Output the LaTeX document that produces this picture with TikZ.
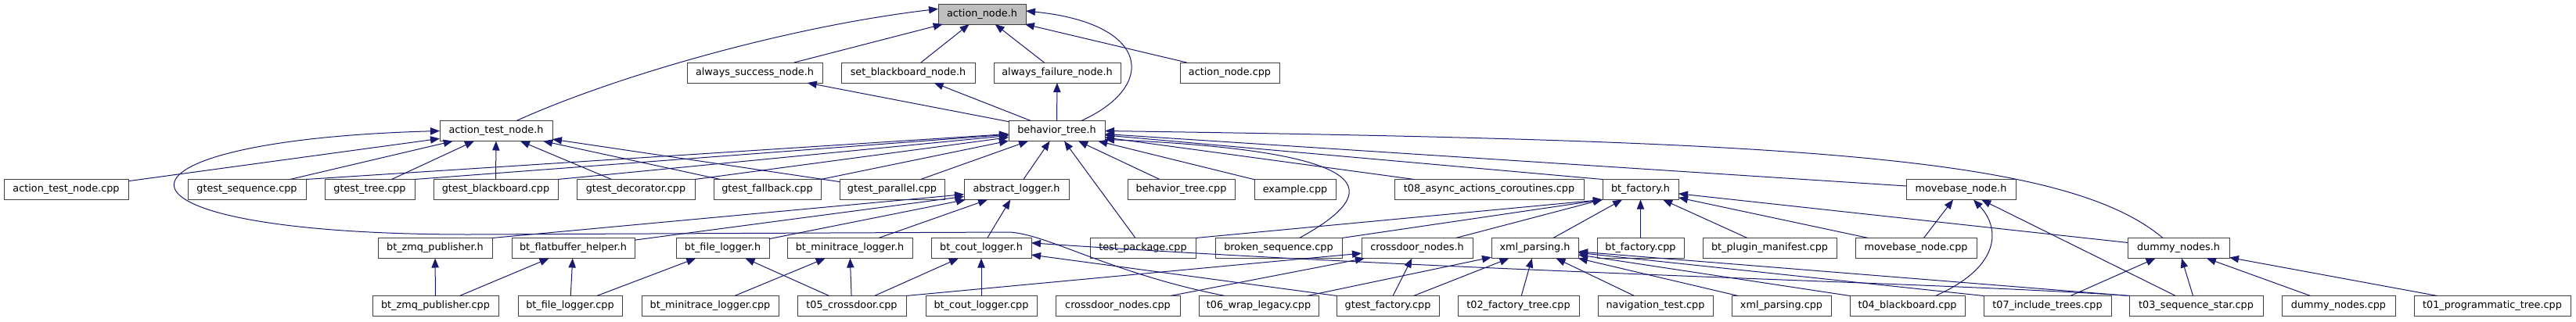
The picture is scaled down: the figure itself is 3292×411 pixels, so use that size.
\documentclass[tikz,border=0pt]{standalone}
\usepackage{fontspec}
\setmainfont{DejaVu Sans}
\usepackage{xcolor}
\usepackage{tikz}
\usetikzlibrary{arrows.meta}

\definecolor{depblue}{RGB}{25,25,112}
\definecolor{boxgrey}{RGB}{64,64,64}
\definecolor{rootgrey}{RGB}{191,191,191}

\begin{document}
\begin{tikzpicture}[x=0.75pt,y=0.75pt,yscale=-1,xscale=1,
  file/.style={draw=boxgrey, line width=0.75pt, fill=white, inner sep=0pt, outer sep=0pt, minimum height=19.5pt, font=\fontsize{9.6pt}{11pt}\selectfont},
  dep/.style={depblue, line width=0.75pt, -{Triangle[length=9pt,width=7pt]}}]
\useasboundingbox (0,0) rectangle (3292,411); %set diagram left start at 0, and has height of 411

% Text Node (row 0)
\node[file, fill=rootgrey, minimum width=84pt] (an) at (1255,18) {action\_node.h};
% Text Node (row 1)
\node[file, minimum width=129.75pt] (asn) at (964.5,93) {always\_success\_node.h};
\node[file, minimum width=128.25pt] (sbn) at (1160.5,93) {set\_blackboard\_node.h};
\node[file, minimum width=121.5pt] (afn) at (1351,93) {always\_failure\_node.h};
\node[file, minimum width=95.25pt] (anc) at (1571.5,93) {action\_node.cpp};
% Text Node (row 2)
\node[file, minimum width=108pt] (atn) at (634,167.5) {action\_test\_node.h};
\node[file, minimum width=92.25pt] (bth) at (1350.5,167.5) {behavior\_tree.h};
% Text Node (row 3)
\node[file, minimum width=119.25pt] (atc) at (84.5,242.5) {action\_test\_node.cpp};
\node[file, minimum width=113.25pt] (gseq) at (315.5,242.5) {gtest\_sequence.cpp};
\node[file, minimum width=86.25pt] (gtree) at (472.5,242.5) {gtest\_tree.cpp};
\node[file, minimum width=119.25pt] (gbb) at (633.5,242.5) {gtest\_blackboard.cpp};
\node[file, minimum width=113.25pt] (gdec) at (812.5,242.5) {gtest\_decorator.cpp};
\node[file, minimum width=102.75pt] (gfb) at (980.5,242.5) {gtest\_fallback.cpp};
\node[file, minimum width=100.5pt] (gpar) at (1140,242.5) {gtest\_parallel.cpp};
\node[file, minimum width=100.5pt] (alog) at (1299,242.5) {abstract\_logger.h};
\node[file, minimum width=102.75pt] (btc) at (1509.5,242.5) {behavior\_tree.cpp};
\node[file, minimum width=78pt] (exa) at (1655,242.5) {example.cpp};
\node[file, minimum width=181.5pt] (t08) at (1903,242.5) {t08\_async\_actions\_coroutines.cpp};
\node[file, minimum width=72.75pt] (bfh) at (2096.5,242.5) {bt\_factory.h};
\node[file, minimum width=105pt] (mbh) at (2506,242.5) {movebase\_node.h};
% Text Node (row 4)
\node[file, minimum width=109.5pt] (zmqh) at (556,317.5) {bt\_zmq\_publisher.h};
\node[file, minimum width=117.75pt] (fbh) at (732.5,317.5) {bt\_flatbuffer\_helper.h};
\node[file, minimum width=89.25pt] (flh) at (923.5,317.5) {bt\_file\_logger.h};
\node[file, minimum width=120pt] (mth) at (1086,317.5) {bt\_minitrace\_logger.h};
\node[file, minimum width=96pt] (clh) at (1254,317.5) {bt\_cout\_logger.h};
\node[file, minimum width=101.25pt] (tpk) at (1460.5,317.5) {test\_package.cpp};
\node[file, minimum width=121.5pt] (bseq) at (1634,317.5) {broken\_sequence.cpp};
\node[file, minimum width=106.5pt] (cdh) at (1811,317.5) {crossdoor\_nodes.h};
\node[file, minimum width=83.25pt] (xph) at (1961.5,317.5) {xml\_parsing.h};
\node[file, minimum width=83.25pt] (bfc) at (2096.5,317.5) {bt\_factory.cpp};
\node[file, minimum width=128.25pt] (bpm) at (2261.5,317.5) {bt\_plugin\_manifest.cpp};
\node[file, minimum width=116.25pt] (mbc) at (2448.5,317.5) {movebase\_node.cpp};
\node[file, minimum width=97.5pt] (dnh) at (2784,317.5) {dummy\_nodes.h};
% Text Node (row 5)
\node[file, minimum width=120.75pt] (zmqc) at (556.5,391.5) {bt\_zmq\_publisher.cpp};
\node[file, minimum width=99.75pt] (flc) at (728.5,391.5) {bt\_file\_logger.cpp};
\node[file, minimum width=131.25pt] (mtc) at (907.5,391.5) {bt\_minitrace\_logger.cpp};
\node[file, minimum width=104.25pt] (t05) at (1088.5,391.5) {t05\_crossdoor.cpp};
\node[file, minimum width=106.5pt] (clc) at (1254,391.5) {bt\_cout\_logger.cpp};
\node[file, minimum width=119.25pt] (cdc) at (1428.5,391.5) {crossdoor\_nodes.cpp};
\node[file, minimum width=114.75pt] (t06) at (1608.5,391.5) {t06\_wrap\_legacy.cpp};
\node[file, minimum width=98.25pt] (gfac) at (1773.5,391.5) {gtest\_factory.cpp};
\node[file, minimum width=116.25pt] (t02) at (1940.5,391.5) {t02\_factory\_tree.cpp};
\node[file, minimum width=110.25pt] (nav) at (2115.5,391.5) {navigation\_test.cpp};
\node[file, minimum width=95.25pt] (xpc) at (2276.5,391.5) {xml\_parsing.cpp};
\node[file, minimum width=110.25pt] (t04) at (2437.5,391.5) {t04\_blackboard.cpp};
\node[file, minimum width=122.25pt] (t07) at (2616.5,391.5) {t07\_include\_trees.cpp};
\node[file, minimum width=128.25pt] (t03) at (2806.5,391.5) {t03\_sequence\_star.cpp};
\node[file, minimum width=108.75pt] (dnc) at (2988.5,391.5) {dummy\_nodes.cpp};
\node[file, minimum width=150pt] (t01) at (3185,391.5) {t01\_programmatic\_tree.cpp};

%Curve Lines
\draw[dep] ([xshift=19.5pt]atn.north) .. controls (780,100) and (1000,35) .. ([yshift=-5pt]an.west);
\draw[dep] ([xshift=23.5pt]bth.north) .. controls (1480,110) and (1470,30) .. ([yshift=-3pt]an.east);
%Straight Lines
\draw[dep] (asn) -- (an);
\draw[dep] (sbn) -- (an);
\draw[dep] (afn) -- (an);
\draw[dep] (anc) -- (an);
\draw[dep] (bth) -- (asn);
\draw[dep] (bth) -- (sbn);
\draw[dep] (bth) -- (afn);

%Curve Lines
\draw[dep] ([xshift=25pt]t06.north west) .. controls (1420,350) and (1340,300) .. (1290,297) -- (600,300) .. controls (100,300) and (110,180) .. (atn.west);
%Straight Lines
\draw[dep] (atc) -- (atn);
\draw[dep] (gseq) -- (atn);
\draw[dep] (gtree) -- (atn);
\draw[dep] (gbb) -- (atn);
\draw[dep] (gdec) -- (atn);
\draw[dep] (gfb) -- (atn);
\draw[dep] (gpar) -- (atn);

%Straight Lines
\draw[dep] (gseq.north east) -- (bth);
\draw[dep] (gtree.north east) -- (bth);
\draw[dep] (gbb.north east) -- (bth);
\draw[dep] (gdec.north east) -- (bth);
\draw[dep] (gfb.north east) -- (bth);
\draw[dep] (gpar) -- (bth);
\draw[dep] (alog) -- (bth);
\draw[dep] (tpk) -- (bth);
\draw[dep] (btc) -- (bth);
\draw[dep] (exa) -- (bth);
\draw[dep] (t08) -- (bth);
\draw[dep] (bfh.north west) -- (bth);
\draw[dep] (mbh) -- (bth);
%Curve Lines
\draw[dep] ([xshift=20pt]bseq.north) .. controls (1750,255) and (1800,195) .. (bth.-10);
\draw[dep] ([xshift=-15pt]dnh.north) .. controls (2640,200) and (2300,180) .. (bth.east);

%Straight Lines
\draw[dep] (zmqh.north east) -- (alog);
\draw[dep] (fbh) -- (alog);
\draw[dep] (flh) -- (alog);
\draw[dep] (mth) -- (alog);
\draw[dep] (clh) -- (alog);
\draw[dep] (zmqc) -- (zmqh);
\draw[dep] (zmqc) -- (fbh);
\draw[dep] (flc) -- (fbh);
\draw[dep] (flc) -- (flh);
\draw[dep] (t05) -- (flh);
\draw[dep] (mtc) -- (mth);
\draw[dep] (t05) -- (mth);
\draw[dep] (t05) -- (clh);
\draw[dep] (clc) -- (clh);
\draw[dep] (gfac.north west) -- (clh);
%Curve Lines
\draw[dep] (t03.north west) .. controls (2500,362) and (1900,350) .. ([yshift=-5pt]clh.east);

%Straight Lines
\draw[dep] (t05.north east) -- (cdh);
\draw[dep] (cdc) -- (cdh);
\draw[dep] (gfac) -- (cdh);
\draw[dep] (t06) -- (xph);
\draw[dep] (gfac) -- (xph);
\draw[dep] (t02) -- (xph);
\draw[dep] (nav) -- (xph);
\draw[dep] (xpc) -- (xph);
\draw[dep] (t04.north west) -- (xph);
\draw[dep] (t07.north west) -- (xph);
\draw[dep] (t03.north west) -- (xph);

%Straight Lines
\draw[dep] (tpk.north east) -- (bfh.south west);
\draw[dep] (bseq.north east) -- (bfh.south west);
\draw[dep] (cdh) -- (bfh);
\draw[dep] (xph) -- (bfh);
\draw[dep] (bfc) -- (bfh);
\draw[dep] (bpm) -- (bfh);
\draw[dep] (mbc) -- (bfh);
\draw[dep] (dnh) -- (bfh);

%Straight Lines
\draw[dep] (mbc) -- (mbh);
\draw[dep] (t03) -- (mbh);
%Curve Lines
\draw[dep] ([xshift=27pt]t04.north) .. controls (2560,340) and (2555,290) .. ([xshift=12pt]mbh.south);

%Straight Lines
\draw[dep] (t07) -- (dnh);
\draw[dep] (t03) -- (dnh);
\draw[dep] (dnc) -- (dnh);
\draw[dep] (t01) -- (dnh);

\end{tikzpicture}
\end{document}
